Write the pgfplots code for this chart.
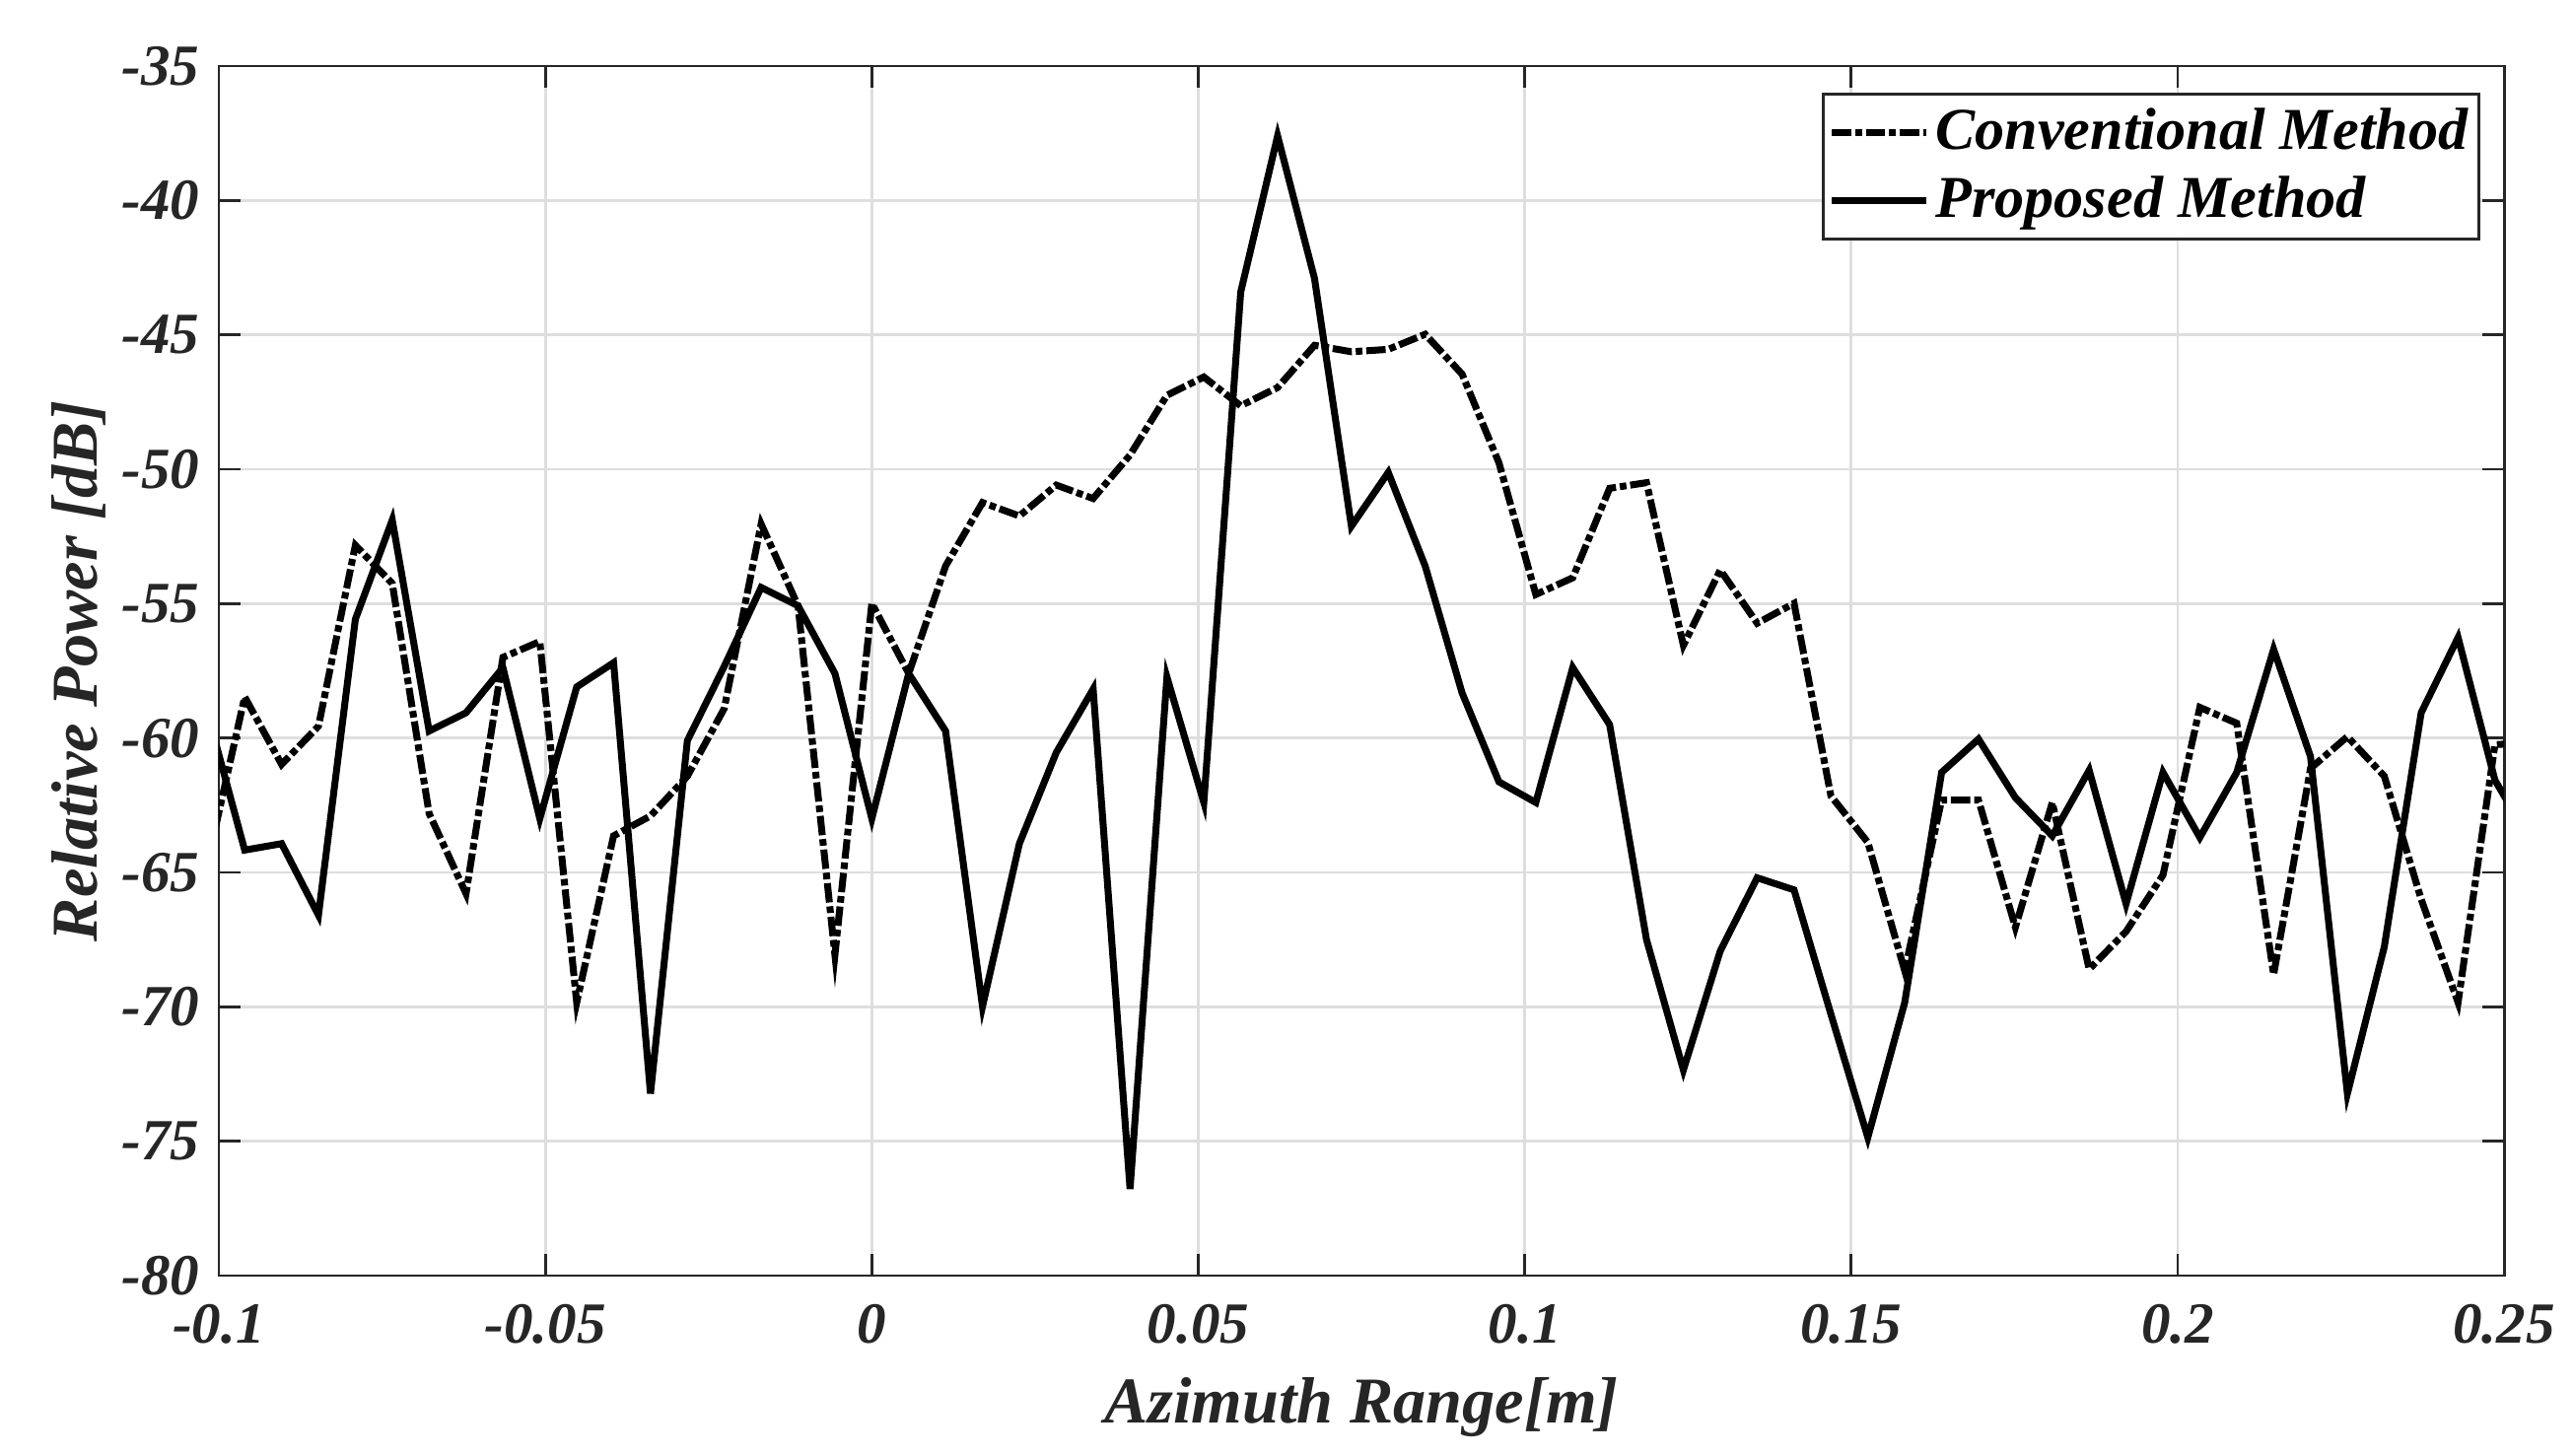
\documentclass[border=0pt]{standalone}
\usepackage{fontspec}
\setmainfont{Liberation Serif}
\usepackage{pgfplots}
\usepackage{pgfplotstable}
\pgfplotsset{compat=1.18}

\definecolor{axgray}{RGB}{38,38,38}
\definecolor{gridgray}{RGB}{222,222,222}

\newcommand{\tickfont}{\fontsize{10.5}{12}\selectfont\bfseries\itshape}
\newcommand{\legfont}{\fontsize{10.7}{12}\selectfont\bfseries\itshape}
\newcommand{\labfont}{\fontsize{11.8}{14}\selectfont\bfseries\itshape}

% azimuth profile, both methods on the same sample grid
\pgfplotstableread{
x        conv    prop
-0.10170 -64.60 -59.10
-0.09605 -58.47 -64.17
-0.09040 -60.98 -63.93
-0.08475 -59.56 -66.59
-0.07910 -52.83 -55.58
-0.07345 -54.25 -51.89
-0.06780 -62.81 -59.74
-0.06215 -65.79 -59.06
-0.05650 -57.00 -57.38
-0.05085 -56.41 -63.00
-0.04520 -69.84 -58.10
-0.03955 -63.64 -57.20
-0.03390 -62.90 -73.23
-0.02825 -61.42 -60.10
-0.02260 -58.90 -57.33
-0.01695 -52.04 -54.40
-0.01130 -55.08 -55.08
-0.00565 -68.07 -57.60
 0.00000 -54.99 -63.00
 0.00565 -57.60 -57.60
 0.01130 -53.60 -59.74
 0.01695 -51.24 -69.99
 0.02260 -51.74 -63.93
 0.02825 -50.59 -60.54
 0.03390 -51.09 -58.18
 0.03955 -49.47 -76.78
 0.04520 -47.25 -57.73
 0.05085 -46.57 -62.40
 0.05650 -47.64 -43.41
 0.06215 -46.96 -37.60
 0.06780 -45.39 -42.90
 0.07345 -45.63 -52.12
 0.07910 -45.54 -50.12
 0.08475 -44.98 -53.60
 0.09040 -46.46 -58.32
 0.09605 -49.76 -61.63
 0.10170 -54.66 -62.40
 0.10735 -54.04 -57.38
 0.11300 -50.71 -59.50
 0.11865 -50.50 -67.50
 0.12430 -56.55 -72.35
 0.12995 -53.75 -67.92
 0.13560 -55.73 -65.20
 0.14125 -54.99 -65.65
 0.14690 -62.16 -70.28
 0.15255 -63.88 -74.86
 0.15820 -68.66 -69.84
 0.16385 -62.31 -61.28
 0.16950 -62.31 -60.04
 0.17515 -67.04 -62.22
 0.18080 -62.40 -63.64
 0.18645 -68.60 -61.20
 0.19210 -67.20 -66.17
 0.19775 -65.10 -61.28
 0.20340 -58.86 -63.70
 0.20905 -59.45 -61.28
 0.21470 -68.80 -56.70
 0.22035 -61.13 -60.69
 0.22600 -59.95 -73.23
 0.23165 -61.42 -67.77
 0.23730 -66.00 -59.06
 0.24295 -69.84 -56.26
 0.24860 -60.24 -61.57
 0.25425 -60.20 -63.90
}\profile

\begin{document}
\begin{tikzpicture}
\begin{axis}[
    scale only axis,
    width=14.49cm, height=7.67cm,
    xmin=-0.1, xmax=0.25,
    ymin=-80, ymax=-35,
    xtick={-0.1,-0.05,0,0.05,0.1,0.15,0.2,0.25},
    xticklabels={-0.1,-0.05,0,0.05,0.1,0.15,0.2,0.25},
    ytick={-80,-75,...,-35},
    yticklabels={-80,-75,-70,-65,-60,-55,-50,-45,-40,-35},
    tick pos=both, tick align=inside,
    major tick length=0.14cm,
    axis line style={axgray, line width=0.5pt},
    tick style={axgray, line width=0.5pt},
    grid=major,
    grid style={gridgray, line width=0.5pt},
    ticklabel style={font=\tickfont, text=black!85},
    xticklabel style={yshift=-0.06cm},
    xlabel={Azimuth Range[m]},
    ylabel={Relative Power [dB]},
    label style={font=\labfont, text=black!85},
    xlabel style={at={(rel axis cs:0.5,-0.1092)}, anchor=center},
    ylabel style={at={(rel axis cs:-0.0613,0.5)}, anchor=center},
    legend cell align=left,
    legend style={at={(1,1)}, anchor=north east, xshift=-0.15cm, yshift=-0.17cm,
        draw=axgray, line width=0.5pt, font=\legfont, text=black,
        inner xsep=1pt, inner ysep=1.5pt, row sep=1.3pt,
        nodes={inner sep=1pt}},
    legend image code/.code={\draw[#1] (0cm,0cm) -- (0.6cm,0cm);},
]
\addplot[black, line width=1.25pt, dash pattern=on 3.5pt off 0.7pt on 1.2pt off 0.7pt]
    table[x=x, y=conv] {\profile};
\addplot[black, line width=1.25pt]
    table[x=x, y=prop] {\profile};
\legend{Conventional Method, Proposed Method}

\coordinate (bbsw) at (rel axis cs:-0.0958,-0.1459);
\coordinate (bbne) at (rel axis cs:1.0306,1.0546);
\end{axis}
\path (bbsw) rectangle (bbne);
\end{tikzpicture}
\end{document}
